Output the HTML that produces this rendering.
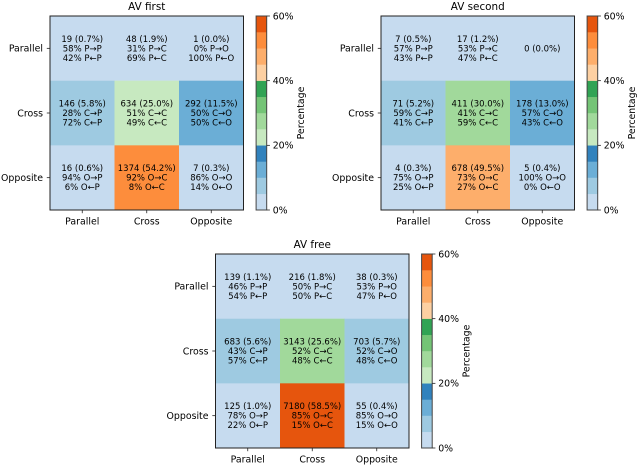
<!DOCTYPE html>
<html lang="en">
<head>
<meta charset="utf-8">
<title>AV confusion matrices</title>
<style>
html,body{margin:0;padding:0;background:#fff;}
svg{display:block;filter:blur(0.35px);}
text{font-family:"DejaVu Sans",sans-serif;fill:#000;}
</style>
</head>
<body>
<svg id="chart" xmlns="http://www.w3.org/2000/svg" width="640" height="467" viewBox="0 0 640 467"></svg>
<script>
const categories = ['Parallel', 'Cross', 'Opposite'];
const codes = ['P', 'C', 'O'];
const titles = ['AV first', 'AV second', 'AV free'];
const colorbarTicks = [0, 20, 40, 60];
const colorbarTitle = 'Percentage';
const binColors = ['#c6dbef','#9ecae1','#6baed6','#3182bd','#c7e9c0','#a1d99b','#74c476','#31a354','#fdd0a2','#fdae6b','#fd8d3c','#e6550d'];

const countsFirst = [[19,48,1],[146,634,292],[16,1374,7]];
const percentFirst = [[0.7,1.9,0.0],[5.8,25.0,11.5],[0.6,54.2,0.3]];
const forwardFirst = [[58,31,0],[28,51,50],[94,92,86]];
const backwardFirst = [[42,69,100],[72,49,50],[6,8,14]];

const countsSecond = [[7,17,0],[71,411,178],[4,678,5]];
const percentSecond = [[0.5,1.2,0.0],[5.2,30.0,13.0],[0.3,49.5,0.4]];
const forwardSecond = [[57,53,null],[59,41,57],[75,73,100]];
const backwardSecond = [[43,47,null],[41,59,43],[25,27,0]];

const countsFree = [[139,216,38],[683,3143,703],[125,7180,55]];
const percentFree = [[1.1,1.8,0.3],[5.6,25.6,5.7],[1.0,58.5,0.4]];
const forwardFree = [[46,50,53],[43,52,52],[78,85,85]];
const backwardFree = [[54,50,47],[57,48,48],[22,15,15]];

const NS = 'http://www.w3.org/2000/svg';
const root = document.getElementById('chart');
const cellFont = 8.5, tickFont = 9.4, titleFont = 10.4, lineGap = 9.5;
const axisColor = '#222', cbarEdge = '#444';

function mk(parent, tag, attrs, txt) {
  const el = document.createElementNS(NS, tag);
  for (const k in attrs) el.setAttribute(k, attrs[k]);
  if (txt !== undefined) el.textContent = txt;
  parent.appendChild(el);
  return el;
}
function binColor(v) {
  const top = binColors.length - 1;
  const i = Math.ceil(v / 5) - 1;
  return binColors[Math.max(0, Math.min(top, i))];
}

function drawPanel(box, title, counts, percent, forward, backward, key) {
  const g = mk(root, 'g', {});
  
  
  const cw = box.w / categories.length, ch = box.h / categories.length;
  const xScale = function (i) { return box.x + i * cw; };
  const yScale = function (i) { return box.y + i * ch; };
  const cbY = function (v) { return box.y + box.h - (v / 60) * box.h; };

  categories.forEach(function (rowName, r) {
    categories.forEach(function (colName, c) {
      const cell = mk(g, 'rect', {x: xScale(c), y: yScale(r), width: cw + 0.2, height: ch + 0.2, fill: binColor(percent[r][c])});
      
      
      const cx = xScale(c) + cw / 2, cy = yScale(r) + ch / 2;
      const lines = [counts[r][c] + ' (' + percent[r][c].toFixed(1) + '%)'];
      if (forward[r][c] !== null) {
        lines.push(forward[r][c] + '% ' + codes[r] + '→' + codes[c]);
        lines.push(backward[r][c] + '% ' + codes[r] + '←' + codes[c]);
      }
      const start = cy - (lines.length - 1) * lineGap / 2 + cellFont * 0.36;
      lines.forEach(function (line, i) {
        const t = mk(g, 'text', {x: cx, y: start + i * lineGap, 'text-anchor': 'middle', 'font-size': cellFont}, line);
        
        
      });
    });
  });

  const frame = mk(g, 'rect', {x: box.x, y: box.y, width: box.w, height: box.h, fill: 'none', stroke: axisColor, 'stroke-width': 1});
  
  

  const ttl = mk(g, 'text', {x: box.x + box.w / 2, y: box.y - 6, 'text-anchor': 'middle', 'font-size': titleFont}, title);
  
  

  categories.forEach(function (name, i) {
    const tx = xScale(i) + cw / 2, ty = yScale(i) + ch / 2;
    const xt = mk(g, 'line', {x1: tx, x2: tx, y1: box.y + box.h, y2: box.y + box.h + 3.2, stroke: axisColor, 'stroke-width': 0.8});
    
    
    const xl = mk(g, 'text', {x: tx, y: box.y + box.h + 14.5, 'text-anchor': 'middle', 'font-size': tickFont}, name);
    
    
    const yt = mk(g, 'line', {x1: box.x - 3.2, x2: box.x, y1: ty, y2: ty, stroke: axisColor, 'stroke-width': 0.8});
    
    
    const yl = mk(g, 'text', {x: box.x - 7, y: ty + 3.4, 'text-anchor': 'end', 'font-size': tickFont}, name);
    
    
  });

  const barX = box.x + box.w + 12.6, barW = 10.6;
  binColors.forEach(function (color, i) {
    const lo = i * 5, hi = (i + 1) * 5;
    const seg = mk(g, 'rect', {x: barX, y: cbY(hi), width: barW, height: cbY(lo) - cbY(hi) + 0.2, fill: color});
    
    
  });
  const barFrame = mk(g, 'rect', {x: barX, y: box.y, width: barW, height: box.h, fill: 'none', stroke: cbarEdge, 'stroke-width': 1});
  
  
  colorbarTicks.forEach(function (v) {
    const ct = mk(g, 'line', {x1: barX + barW, x2: barX + barW + 3.2, y1: cbY(v), y2: cbY(v), stroke: axisColor, 'stroke-width': 0.8});
    
    
    const cl = mk(g, 'text', {x: barX + barW + 6, y: cbY(v) + 3.4, 'font-size': tickFont}, v + '%');
    
    
  });
  const lx = barX + barW + 37.5, ly = box.y + box.h / 2;
  const cbt = mk(g, 'text', {x: lx, y: ly, 'text-anchor': 'middle', 'font-size': tickFont, transform: 'rotate(-90 ' + lx + ' ' + ly + ')'}, colorbarTitle);
  
  
}

drawPanel({x: 50, y: 16, w: 193.5, h: 194}, titles[0], countsFirst, percentFirst, forwardFirst, backwardFirst, 'av-first');
drawPanel({x: 381, y: 16, w: 193.5, h: 194}, titles[1], countsSecond, percentSecond, forwardSecond, backwardSecond, 'av-second');
drawPanel({x: 215.5, y: 254, w: 193.5, h: 194}, titles[2], countsFree, percentFree, forwardFree, backwardFree, 'av-free');
</script>
</body>
</html>
